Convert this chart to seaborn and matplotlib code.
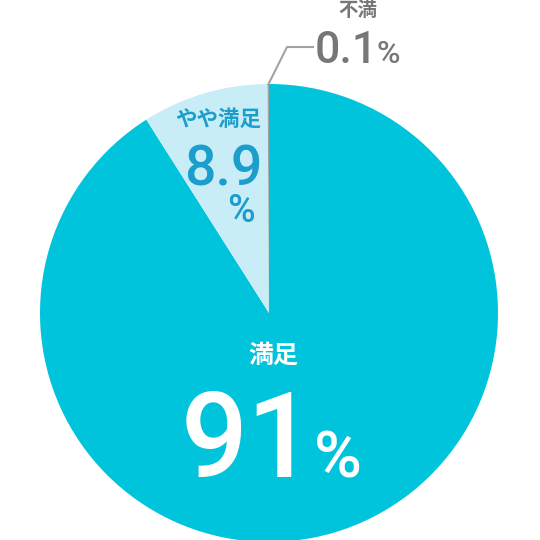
import matplotlib
matplotlib.use("Agg")
import matplotlib.pyplot as plt
import seaborn as sns

sns.set_theme(style="white")

categories = ["満足", "やや満足", "不満"]
values = [91.0, 8.9, 0.1]
value_labels = ["91", "8.9", "0.1"]
colors = ["#00C3DC", "#C9EDF7", "#A3A3A3"]

num_fam = ["Roboto", "Noto Sans CJK JP"]
jp_fam = ["Noto Sans CJK JP", "DejaVu Sans"]

fig = plt.figure(figsize=(5.4, 5.4), dpi=100)
ax = fig.add_axes([0, 0, 1, 1])
ax.set_xlim(0, 540)
ax.set_ylim(0, 540)
ax.set_aspect("equal")
ax.axis("off")

def Y(y):
    return 540 - y

ax.pie(values, colors=colors, startangle=90, counterclock=False,
       center=(269, Y(313)), radius=229,
       wedgeprops=dict(linewidth=0))
ax.set_xlim(0, 540)
ax.set_ylim(0, 540)

# leader line for 不満
ax.plot([268, 287, 314], [Y(85), Y(47), Y(47)], color="#A3A3A3", lw=1.5, solid_capstyle="butt")

W = "medium"
# 満足
ax.text(273, Y(356), categories[0], color="white", fontsize=18, fontweight="bold",
        family=jp_fam, ha="center", va="center")
ax.text(248, Y(477), value_labels[0], color="white", fontsize=85, fontweight=W,
        family=num_fam, ha="center", va="baseline")
ax.text(338, Y(477), "%", color="white", fontsize=47, fontweight=W,
        family=num_fam, ha="center", va="baseline")

# やや満足
ax.text(218, Y(119), categories[1], color="#1C9ECC", fontsize=15.5, fontweight="bold",
        family=jp_fam, ha="center", va="center")
ax.text(223, Y(185), value_labels[1], color="#1C9ECC", fontsize=40, fontweight=W,
        family=num_fam, ha="center", va="baseline")
ax.text(241, Y(222), "%", color="#1C9ECC", fontsize=27, fontweight=W,
        family=num_fam, ha="center", va="baseline")

# 不満
ax.text(358, Y(10), categories[2], color="#777777", fontsize=14, fontweight="bold",
        family=jp_fam, ha="center", va="center")
ax.text(346, Y(63), value_labels[2], color="#777777", fontsize=32, fontweight=W,
        family=num_fam, ha="center", va="baseline")
ax.text(388, Y(63), "%", color="#777777", fontsize=23, fontweight=W,
        family=num_fam, ha="center", va="baseline")

fig.savefig("out.png", dpi=100)
